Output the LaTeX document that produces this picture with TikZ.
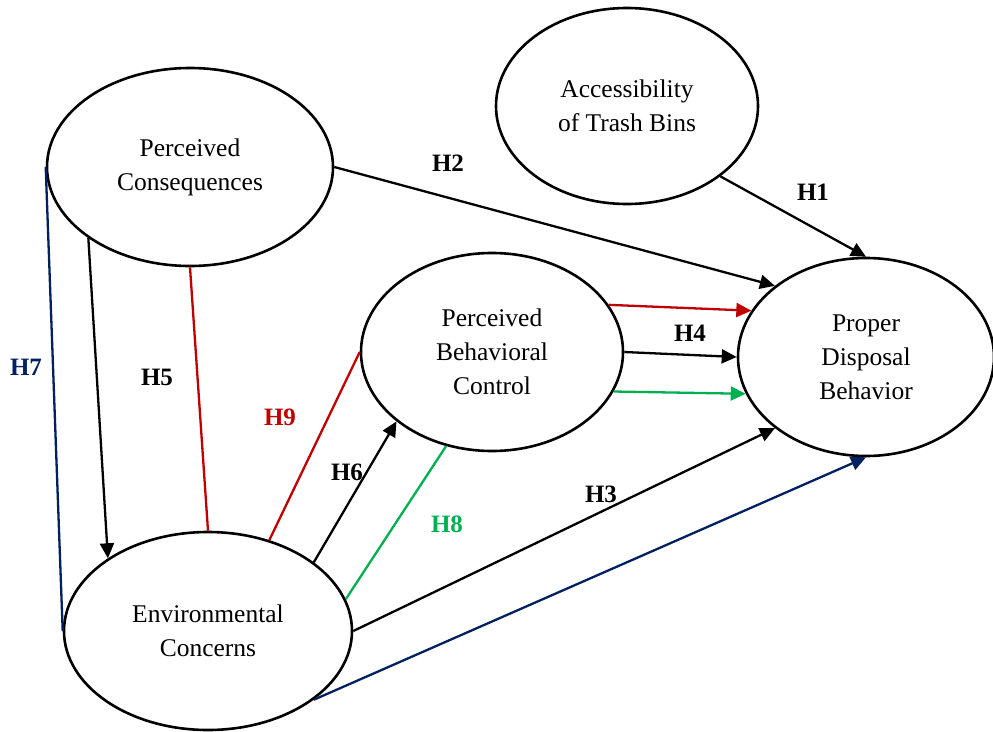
\documentclass[tikz,border=0pt]{standalone}
\usepackage{fontspec}
\setmainfont{Liberation Serif}
\usetikzlibrary{shapes.geometric,arrows.meta}
\definecolor{hred}{RGB}{192,0,0}
\definecolor{hgreen}{RGB}{0,176,80}
\definecolor{hnavy}{RGB}{0,32,96}
\begin{document}
\begin{tikzpicture}[x=1pt,y=-1pt,
  latent/.style={ellipse, draw, line width=2.6pt, inner sep=0pt, align=center,
    font=\fontsize{25.5}{34}\selectfont},
  conn/.style={line width=2.3pt},
  arr/.style={conn, -{Triangle[length=15pt,width=14pt]}},
  hlab/.style={font=\fontsize{25}{28}\selectfont\bfseries, inner sep=0pt}]
\useasboundingbox (0,0) rectangle (993,731);
% constructs
\node[latent, minimum width=286pt, minimum height=198pt] (pc) at (190,167) {Perceived\\Consequences};
\node[latent, minimum width=262pt, minimum height=196pt] (ac) at (627,106) {Accessibility\\of Trash Bins};
\node[latent, minimum width=256pt, minimum height=198pt] (pdb) at (866,357) {Proper\\Disposal\\Behavior};
\node[latent, minimum width=262pt, minimum height=198pt] (pbc) at (492,352) {Perceived\\Behavioral\\Control};
\node[latent, minimum width=288pt, minimum height=198pt] (ec) at (208,631) {Environmental\\Concerns};
% paths
\draw[arr] (pc.0) -- (pdb.142.4);
\draw[arr] (ac.-37.4) -- (pdb.90);
\draw[arr, hred] (pbc.22.9) -- (pdb.158.8);
\draw[arr] (pbc.0) -- (pdb.180);
\draw[arr, hgreen] (pbc.-18.7) -- (pdb.197.4);
\draw[arr] (ec.0) -- (pdb.218);
\draw[arr, hnavy] (ec.-33.7) -- (pdb.-90);
\draw[arr] (ec.33.3) -- (pbc.216.7);
\draw[conn, hgreen] (ec.13.1) -- (pbc.244.2);
\draw[conn, hred] (ec.56.7) -- (pbc.180);
\draw[conn, hred] (pc.-90) -- (ec.90);
\draw[arr] (pc.215.1) -- (ec.144.1);
\draw[conn, hnavy] (pc.180) -- (ec.180);
% labels
\node[hlab] (h2) at (448,163) {H2};
\node[hlab] (h1) at (813,192) {H1};
\node[hlab] (h4) at (690,333) {H4};
\node[hlab] (h3) at (601,494) {H3};
\node[hlab] (h5) at (157,377) {H5};
\node[hlab] (h6) at (347,472) {H6};
\node[hlab, hnavy] (h7) at (26,367) {H7};
\node[hlab, hgreen] (h8) at (447,524) {H8};
\node[hlab, hred] (h9) at (280,417) {H9};
\end{tikzpicture}
\end{document}
